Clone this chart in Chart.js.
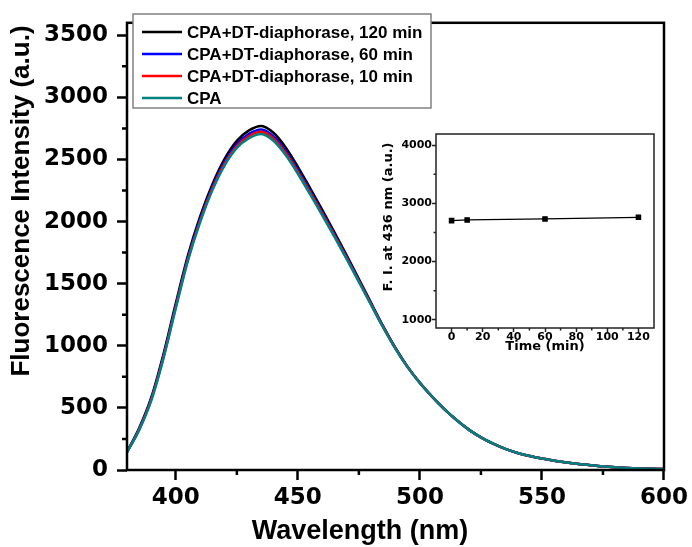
<!DOCTYPE html>
<html lang="en">
<head>
    <meta charset="UTF-8">
    <title>Fluorescence Spectra</title>
    <script src="https://cdn.jsdelivr.net/npm/chart.js"></script>
    <style>
        body { margin: 0; background: #fff; }
        #wrap { position: relative; width: 692px; height: 547px; }
        #inset { position: absolute; left: 370px; top: 125px; }
    </style>
</head>
<body>
<div id="wrap">
  <canvas id="SpectraChart" width="692" height="547"></canvas>
  <canvas id="inset" width="295" height="235"></canvas>
</div>
<script>
// emission spectra, every 5 nm
const wavelengths = [380,385,390,395,400,405,410,415,420,425,430,435,440,445,450,455,460,465,470,475,480,485,490,495,500,505,510,515,520,525,530,535,540,545,550,555,560,565,570,575,580,585,590,595,600];
const cpaDt120 = [147,338,588,938,1343,1730,2043,2301,2505,2650,2734,2770,2715,2597,2441,2270,2094,1914,1729,1538,1345,1156,982,830,702,591,490,402,325,263,212,170,137,112,92,75,61,49,39,30,23,17,13,10,8];
const cpaDt60 = [145,331,577,922,1325,1711,2023,2280,2482,2624,2706,2741,2686,2569,2416,2248,2074,1897,1715,1527,1337,1151,979,828,701,590,490,402,325,263,212,170,137,112,92,75,61,49,39,30,23,17,13,10,8];
const cpaDt10 = [143,327,570,912,1314,1699,2010,2266,2467,2608,2689,2722,2667,2552,2400,2234,2062,1886,1706,1520,1333,1148,977,827,700,590,490,402,325,263,212,170,137,112,92,75,61,49,39,30,23,17,13,10,8];
const cpaOnly = [142,323,563,903,1303,1688,1998,2253,2453,2593,2672,2705,2650,2535,2385,2220,2050,1876,1698,1514,1328,1145,975,826,700,590,490,402,325,263,212,170,137,112,92,75,61,49,39,30,23,17,13,10,8];
const seriesLabels = ['CPA+DT-diaphorase, 120 min', 'CPA+DT-diaphorase, 60 min', 'CPA+DT-diaphorase, 10 min', 'CPA'];

const xTicks = [400, 450, 500, 550, 600];
const xMinor = [425, 475, 525, 575];
const yTicks = [0, 500, 1000, 1500, 2000, 2500, 3000, 3500];
const yMinor = [250, 750, 1250, 1750, 2250, 2750, 3250];

// inset: intensity at 436 nm vs time
const times = [0, 10, 60, 120];
const intensity436 = [2703, 2715, 2732, 2760];
const insetXTicks = [0, 20, 40, 60, 80, 100, 120];
const insetXMinor = [10, 30, 50, 70, 90, 110];
const insetYTicks = [1000, 2000, 3000, 4000];
const insetYMinor = [1500, 2500, 3500];

const FONT = "'Liberation Sans', Arial, sans-serif";
const TICKFONT = "'DejaVu Sans', sans-serif";

function toPoints(ys) {
    return wavelengths.map((x, i) => ({ x: x, y: ys[i] }));
}

// box around the plot area, short minor ticks and the axis titles
function framePlugin(cfg) {
    return {
        id: 'frame',
        afterDraw(chart) {
            const ctx = chart.ctx;
            const a = chart.chartArea;
            const xs = chart.scales.x, ys = chart.scales.y;
            ctx.save();
            ctx.strokeStyle = cfg.color;
            ctx.lineWidth = cfg.lw;
            ctx.strokeRect(a.left, a.top, a.right - a.left, a.bottom - a.top);
            ctx.beginPath();
            cfg.minorX.forEach(v => {
                const px = xs.getPixelForValue(v);
                ctx.moveTo(px, a.bottom);
                ctx.lineTo(px, a.bottom + cfg.len);
            });
            cfg.minorY.forEach(v => {
                const py = ys.getPixelForValue(v);
                ctx.moveTo(a.left, py);
                ctx.lineTo(a.left - cfg.len, py);
            });
            ctx.stroke();

            ctx.fillStyle = '#000';
            ctx.textAlign = 'center';
            ctx.textBaseline = 'middle';
            ctx.font = cfg.xTitle.font;
            ctx.fillText(cfg.xTitle.text, cfg.xTitle.x, cfg.xTitle.y);
            ctx.translate(cfg.yTitle.x, cfg.yTitle.y);
            ctx.rotate(-Math.PI / 2);
            ctx.font = cfg.yTitle.font;
            ctx.fillText(cfg.yTitle.text, 0, 0);
            ctx.restore();
        }
    };
}

const legendInside = {
    id: 'legendInside',
    afterDraw(chart) {
        const ctx = chart.ctx;
        ctx.save();
        ctx.fillStyle = '#fff';
        ctx.fillRect(133, 14, 298, 94);
        ctx.strokeStyle = '#808080';
        ctx.lineWidth = 1.5;
        ctx.strokeRect(133, 14, 298, 94);
        ctx.font = 'bold 17px ' + FONT;
        ctx.textBaseline = 'middle';
        chart.data.datasets.forEach((ds, i) => {
            const y = 32 + i * 22;
            ctx.strokeStyle = ds.borderColor;
            ctx.lineWidth = 2.5;
            ctx.beginPath();
            ctx.moveTo(142, y);
            ctx.lineTo(182, y);
            ctx.stroke();
            ctx.fillStyle = '#000';
            ctx.fillText(ds.label, 187, y + 1);
        });
        ctx.restore();
    }
};

const colors = ['#000000', '#0000ff', '#ff0000', '#008080'];
const allSeries = [cpaDt120, cpaDt60, cpaDt10, cpaOnly];

new Chart(document.getElementById('SpectraChart').getContext('2d'), {
    type: 'line',
    data: {
        datasets: allSeries.map((s, i) => ({
            label: seriesLabels[i],
            data: toPoints(s),
            borderColor: colors[i],
            borderWidth: 2.5,
            pointRadius: 0,
            cubicInterpolationMode: 'monotone',
            order: 3 - i
        }))
    },
    options: {
        responsive: false,
        animation: false,
        layout: { padding: { top: 13, right: 27, left: 0, bottom: 0 } },
        plugins: { legend: { display: false }, tooltip: { enabled: false } },
        scales: {
            x: {
                type: 'linear',
                min: 380,
                max: 600,
                afterBuildTicks: s => { s.ticks = xTicks.map(v => ({ value: v })); },
                afterFit: s => { s.height = 77; },
                grid: { drawOnChartArea: false, tickLength: 10, tickWidth: 2.5, tickColor: '#000' },
                border: { display: false },
                ticks: { color: '#000', font: { family: TICKFONT, size: 23, weight: 'bold' }, padding: 4,
                         callback: v => String(v) }
            },
            y: {
                min: 0,
                max: 3600,
                afterBuildTicks: s => { s.ticks = yTicks.map(v => ({ value: v })); },
                afterFit: s => { s.width = 127; },
                grid: { drawOnChartArea: false, tickLength: 10, tickWidth: 2.5, tickColor: '#000' },
                border: { display: false },
                ticks: { color: '#000', font: { family: TICKFONT, size: 23, weight: 'bold' }, padding: 9,
                         callback: v => String(v) }
            }
        }
    },
    plugins: [framePlugin({
        lw: 2.5, color: '#000', minorX: xMinor, minorY: yMinor, len: 5,
        xTitle: { text: 'Wavelength (nm)', font: 'bold 27px ' + FONT, x: 360, y: 532 },
        yTitle: { text: 'Fluorescence Intensity (a.u.)', font: 'bold 26px ' + FONT, x: 22, y: 201 }
    }), legendInside]
});

new Chart(document.getElementById('inset').getContext('2d'), {
    type: 'line',
    data: {
        datasets: [{
            data: times.map((t, i) => ({ x: t, y: intensity436[i] })),
            borderColor: '#000',
            backgroundColor: '#000',
            borderWidth: 1.3,
            pointStyle: 'rect',
            pointRadius: 3,
            tension: 0
        }]
    },
    options: {
        responsive: false,
        animation: false,
        layout: { padding: { top: 9, right: 11, left: 0, bottom: 0 } },
        plugins: { legend: { display: false }, tooltip: { enabled: false } },
        scales: {
            x: {
                type: 'linear',
                min: -10,
                max: 130,
                afterBuildTicks: s => { s.ticks = insetXTicks.map(v => ({ value: v })); },
                afterFit: s => { s.height = 32; },
                grid: { drawOnChartArea: false, tickLength: 4, tickWidth: 1.5, tickColor: '#222' },
                border: { display: false },
                ticks: { color: '#000', font: { family: TICKFONT, size: 11, weight: 'bold' }, padding: -1,
                         callback: v => String(v) }
            },
            y: {
                min: 860,
                max: 4190,
                afterBuildTicks: s => { s.ticks = insetYTicks.map(v => ({ value: v })); },
                afterFit: s => { s.width = 66; },
                grid: { drawOnChartArea: false, tickLength: 4, tickWidth: 1.5, tickColor: '#222' },
                border: { display: false },
                ticks: { color: '#000', font: { family: TICKFONT, size: 11, weight: 'bold' }, padding: 0,
                         callback: v => String(v) }
            }
        }
    },
    plugins: [framePlugin({
        lw: 1.5, color: '#222', minorX: insetXMinor, minorY: insetYMinor, len: 2.5,
        xTitle: { text: 'Time (min)', font: 'bold 13px ' + TICKFONT, x: 175, y: 222 },
        yTitle: { text: 'F. I. at 436 nm (a.u.)', font: 'bold 13px ' + TICKFONT, x: 19, y: 92 }
    })]
});
</script>

</body>
</html>
